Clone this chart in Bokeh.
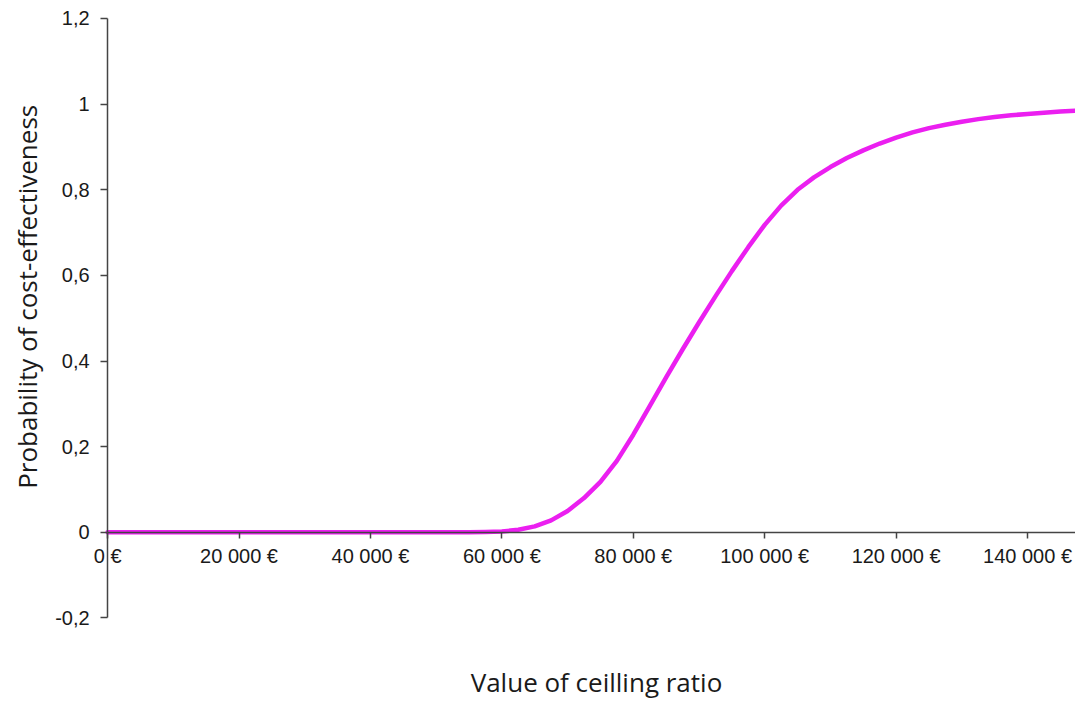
import math
from bokeh.plotting import figure
from bokeh.models import Range1d, FixedTicker, Label
from bokeh.embed import file_html
from bokeh.resources import INLINE

ceiling = [0, 10000, 20000, 30000, 40000, 50000, 55000, 57500, 60000, 62500, 65000,
           67500, 70000, 72500, 75000, 77500, 80000, 82500, 85000, 87500, 90000,
           92500, 95000, 97500, 100000, 102500, 105000, 107500, 110000, 112500,
           115000, 117500, 120000, 122500, 125000, 127500, 130000, 132500, 135000,
           137500, 140000, 142500, 145000, 147500, 150000]
prob = [0.0, 0.0, 0.0, 0.0, 0.0, 0.0, 0.0, 0.0006, 0.002, 0.006, 0.014,
        0.028, 0.05, 0.08, 0.118, 0.167, 0.228, 0.295, 0.362, 0.427, 0.49,
        0.551, 0.61, 0.666, 0.718, 0.763, 0.80, 0.829, 0.853, 0.874,
        0.892, 0.908, 0.922, 0.934, 0.944, 0.952, 0.959, 0.965, 0.970,
        0.974, 0.977, 0.980, 0.983, 0.985, 0.987]

x_ticks = [0, 20000, 40000, 60000, 80000, 100000, 120000, 140000]
x_labels = ["0 €", "20 000 €", "40 000 €", "60 000 €", "80 000 €", "100 000 €", "120 000 €", "140 000 €"]
y_ticks = [-0.2, 0, 0.2, 0.4, 0.6, 0.8, 1, 1.2]
y_labels = ["-0,2", "0", "0,2", "0,4", "0,6", "0,8", "1", "1,2"]
x_title = "Value of ceilling ratio"
y_title = "Probability of cost-effectiveness"

# frame covers the whole canvas; axes sit at x=0 / y=0 like the original chart
p = figure(width=1075, height=701, output_backend="svg", toolbar_location=None,
           x_range=Range1d(-16300, 147300), y_range=Range1d(-0.395, 1.242),
           min_border_left=0, min_border_right=0, min_border_top=0, min_border_bottom=0)
p.outline_line_color = None
p.grid.visible = False
p.background_fill_color = "white"

p.line(ceiling, prob, line_color="#EB1FF0", line_width=4.5, line_join="round", line_cap="round")

TICK_FONT = "Liberation Sans"
TICK_SIZE = "20px"
AX_COLOR = "#444444"
TXT_COLOR = "#1a1a1a"

ax = p.xaxis[0]
ax.fixed_location = 0
ax.bounds = (x_ticks[0], 150000)
ax.ticker = FixedTicker(ticks=x_ticks)
ax.major_label_overrides = {t: l for t, l in zip(x_ticks, x_labels)}
ax.minor_tick_line_color = None
ax.major_tick_in = 0
ax.major_tick_out = 6
ax.major_label_standoff = 7
ax.axis_line_color = AX_COLOR
ax.axis_line_width = 1.5
ax.major_tick_line_color = AX_COLOR
ax.major_tick_line_width = 1.5
ax.major_label_text_font = TICK_FONT
ax.major_label_text_font_size = TICK_SIZE
ax.major_label_text_color = TXT_COLOR

ay = p.yaxis[0]
ay.fixed_location = 0
ay.bounds = (y_ticks[0], y_ticks[-1])
ay.ticker = FixedTicker(ticks=y_ticks)
ay.major_label_overrides = {t: l for t, l in zip(y_ticks, y_labels)}
ay.minor_tick_line_color = None
ay.major_tick_in = 0
ay.major_tick_out = 7
ay.major_label_standoff = 11
ay.axis_line_color = AX_COLOR
ay.axis_line_width = 1.5
ay.major_tick_line_color = AX_COLOR
ay.major_tick_line_width = 1.5
ay.major_label_text_font = TICK_FONT
ay.major_label_text_font_size = TICK_SIZE
ay.major_label_text_color = TXT_COLOR

xlab = Label(x=74400, y=-0.350, x_units="data", y_units="data",
             text=x_title, text_align="center", text_baseline="middle",
             text_font="Open Sans", text_font_size="26px", text_color=TXT_COLOR)
p.add_layout(xlab)

ylab = Label(x=-12300, y=0.55, x_units="data", y_units="data", angle=math.pi / 2,
             text=y_title, text_align="center", text_baseline="middle",
             text_font="Open Sans", text_font_size="26px", text_color=TXT_COLOR)
p.add_layout(ylab)

open("out.html", "w").write(file_html(p, INLINE))
